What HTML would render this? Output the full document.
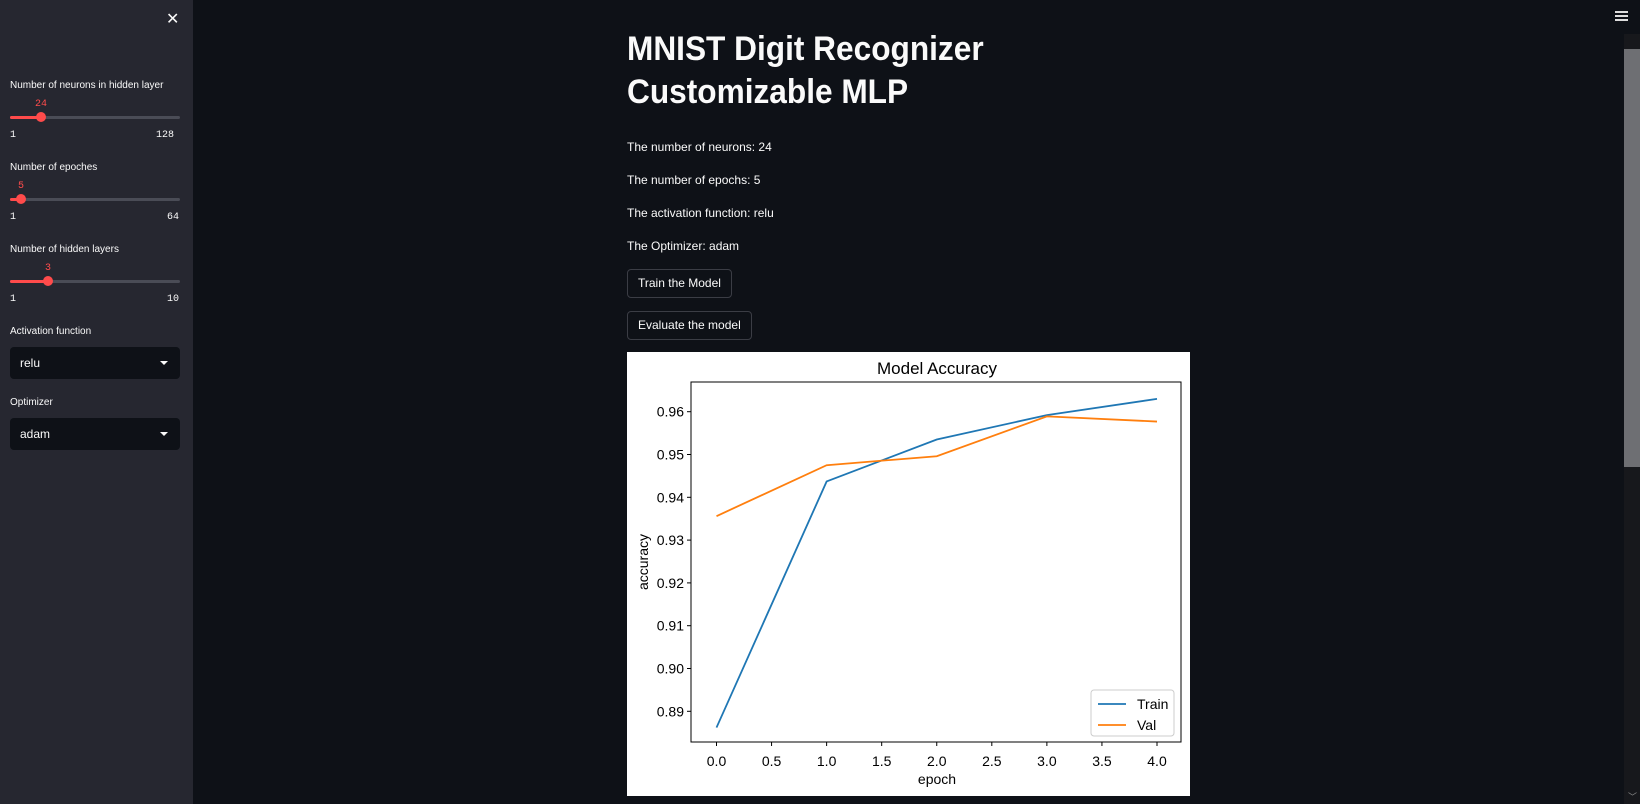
<!DOCTYPE html>
<html><head><meta charset="utf-8"><style>
*{margin:0;padding:0;box-sizing:border-box}
body{width:1640px;height:804px;overflow:hidden;background:#0e1117;font-family:"Liberation Sans",sans-serif;color:#fafafa;position:relative}
#sidebar{position:absolute;left:0;top:0;width:193px;height:804px;background:#262730}
.lbl{position:absolute;left:10px;font-size:10px;color:#fafafa;white-space:nowrap}
.track{position:absolute;left:10px;width:170px;height:3px;background:#4a4c56;border-radius:2px}
.fill{position:absolute;left:0;top:0;height:3px;background:#ff4b4b;border-radius:2px}
.thumb{position:absolute;top:-4px;width:10px;height:10px;border-radius:50%;background:#ff4b4b;margin-left:-5px}
.val{position:absolute;font-family:"Liberation Mono",monospace;font-size:10px;color:#ff4b4b;transform:translateX(-50%)}
.mm{position:absolute;font-family:"Liberation Mono",monospace;font-size:10px;color:#fafafa}
.sel{position:absolute;left:10px;width:170px;height:32px;background:#0e1117;border-radius:4px;font-size:12px;line-height:32px;padding-left:10px}
.sel .arr{position:absolute;right:12px;top:14px;width:0;height:0;border-left:4px solid transparent;border-right:4px solid transparent;border-top:4px solid #fafafa}
h1{position:absolute;left:627px;font-size:34px;font-weight:bold;white-space:nowrap;transform:scaleX(0.93);transform-origin:left;line-height:1}
.p{position:absolute;left:627px;font-size:12px;white-space:nowrap}
.btn{position:absolute;left:627px;height:29px;border:1px solid #3b3d45;border-radius:4px;font-size:12px;line-height:27px;padding:0 10px;background:#0e1117;white-space:nowrap}
</style></head><body>
<div id="sidebar">
 <div style="position:absolute;left:166px;top:9px;font-size:16px;color:#fafafa">✕</div>
 <div class="lbl" style="top:80px">Number of neurons in hidden layer</div>
 <div class="val" style="left:41px;top:99px">24</div>
 <div class="track" style="top:116px"><div class="fill" style="width:31px"></div><div class="thumb" style="left:31px"></div></div>
 <div class="mm" style="left:10px;top:130px">1</div>
 <div class="mm" style="left:156px;top:130px">128</div>

 <div class="lbl" style="top:162px">Number of epoches</div>
 <div class="val" style="left:21px;top:181px">5</div>
 <div class="track" style="top:198px"><div class="fill" style="width:11px"></div><div class="thumb" style="left:11px"></div></div>
 <div class="mm" style="left:10px;top:212px">1</div>
 <div class="mm" style="left:167px;top:212px">64</div>

 <div class="lbl" style="top:244px">Number of hidden layers</div>
 <div class="val" style="left:48px;top:263px">3</div>
 <div class="track" style="top:280px"><div class="fill" style="width:38px"></div><div class="thumb" style="left:38px"></div></div>
 <div class="mm" style="left:10px;top:294px">1</div>
 <div class="mm" style="left:167px;top:294px">10</div>

 <div class="lbl" style="top:326px">Activation function</div>
 <div class="sel" style="top:347px">relu<span class="arr"></span></div>
 <div class="lbl" style="top:397px">Optimizer</div>
 <div class="sel" style="top:418px">adam<span class="arr"></span></div>
</div>

<h1 style="top:32px">MNIST Digit Recognizer</h1>
<h1 style="top:75px">Customizable MLP</h1>
<div class="p" style="top:140px">The number of neurons: 24</div>
<div class="p" style="top:173px">The number of epochs: 5</div>
<div class="p" style="top:206px">The activation function: relu</div>
<div class="p" style="top:239px">The Optimizer: adam</div>
<div class="btn" style="top:269px">Train the Model</div>
<div class="btn" style="top:311px">Evaluate the model</div>

<svg id="chart" style="position:absolute;left:627px;top:352px" width="563" height="444"></svg>

<div style="position:absolute;left:1615px;top:11px;width:13px">
 <div style="height:2px;background:#ddd;margin-bottom:2px"></div><div style="height:2px;background:#ddd;margin-bottom:2px"></div><div style="height:2px;background:#ddd"></div></div>
<div style="position:absolute;left:1624px;top:34px;width:16px;height:770px;background:#17181c"></div>
<div style="position:absolute;left:1624px;top:49px;width:16px;height:418px;background:#6e6f73"></div>
<div style="position:absolute;left:1628px;top:790px;font-size:9px;color:#888">﹀</div>

<script>
const epochs=[0,1,2,3,4];
const trainAcc=[0.8862,0.9437,0.9535,0.9592,0.9630];
const valAcc=[0.9356,0.9475,0.9496,0.9589,0.9577];
const xTicks=[0,0.5,1,1.5,2,2.5,3,3.5,4];
const yTicks=[0.89,0.90,0.91,0.92,0.93,0.94,0.95,0.96];
const NS="http://www.w3.org/2000/svg";
const svg=document.getElementById('chart');
const L=64,R=554,T=30,B=390;
function xs(v){return 89.5+(v-0)/4*(530-89.5);}
function ys(v){return 59.7+(0.96-v)/0.07*(359.3-59.7);}
function el(tag,attrs,parent){const e=document.createElementNS(NS,tag);for(const k in attrs)e.setAttribute(k,attrs[k]);(parent||svg).appendChild(e);return e;}
const bg=el('rect',{x:0,y:0,width:563,height:444,fill:'#fff'});


const title=el('text',{x:310,y:22,'text-anchor':'middle','font-size':17,fill:'#000','font-family':'Liberation Sans, sans-serif'});
title.textContent='Model Accuracy';


xTicks.forEach(t=>{
 const x=xs(t);
 el('line',{x1:x,x2:x,y1:B,y2:B+4,stroke:'#000','stroke-width':1});
 const tx=el('text',{x:x,y:B+24,'text-anchor':'middle','font-size':14,fill:'#000','font-family':'Liberation Sans, sans-serif'});
 tx.textContent=t.toFixed(1);
 
 
});
yTicks.forEach(t=>{
 const y=ys(t);
 el('line',{x1:L-4,x2:L,y1:y,y2:y,stroke:'#000','stroke-width':1});
 const tx=el('text',{x:L-7,y:y+5,'text-anchor':'end','font-size':14,fill:'#000','font-family':'Liberation Sans, sans-serif'});
 tx.textContent=t.toFixed(2);
 
 
});
const xl=el('text',{x:310,y:B+42,'text-anchor':'middle','font-size':14,fill:'#000','font-family':'Liberation Sans, sans-serif'});
xl.textContent='epoch';


const yl=el('text',{x:0,y:0,'text-anchor':'middle','font-size':14,fill:'#000','font-family':'Liberation Sans, sans-serif',transform:'translate(21,'+((T+B)/2)+') rotate(-90)'});
yl.textContent='accuracy';


function series(vals,color,name){
 const pts=epochs.map((e,i)=>xs(e)+','+ys(vals[i])).join(' ');
 const p=el('polyline',{points:pts,fill:'none',stroke:color,'stroke-width':1.8});
 
 
}
series(trainAcc,'#1f77b4','train-line');
series(valAcc,'#ff7f0e','val-line');
const frame=el('rect',{x:L,y:T,width:R-L,height:B-T,fill:'none',stroke:'#000','stroke-width':1});


const lg=el('g',{});


el('rect',{x:464,y:338,width:83,height:46,rx:3,fill:'#fff',stroke:'#ccc'},lg);
[['Train','#1f77b4'],['Val','#ff7f0e']].forEach((d,i)=>{
 const y=352+i*21;
 el('line',{x1:471,x2:499,y1:y,y2:y,stroke:d[1],'stroke-width':1.8},lg);
 const t=el('text',{x:510,y:y+5,'font-size':14,fill:'#000','font-family':'Liberation Sans, sans-serif'},lg);
 t.textContent=d[0];
 
 
});
</script>
</body></html>
